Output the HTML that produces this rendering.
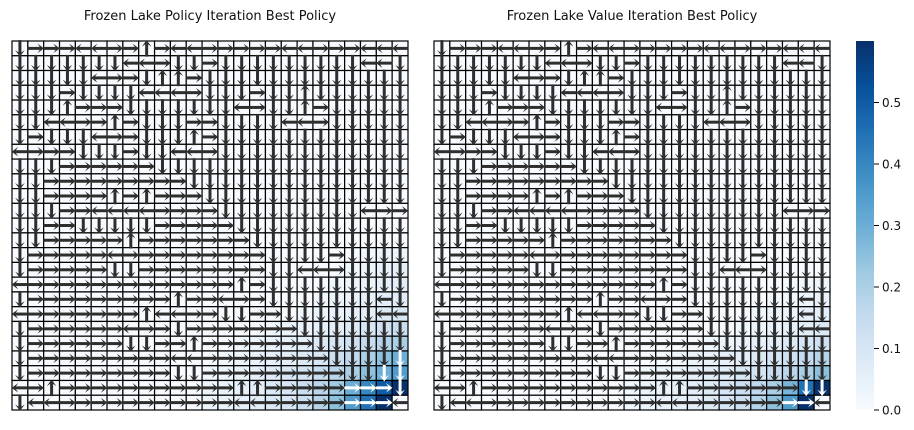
<!DOCTYPE html>
<html><head><meta charset="utf-8">
<style>
html,body{margin:0;padding:0;background:#fff;}
svg{display:block;font-family:"DejaVu Sans","Liberation Sans",sans-serif;}
</style></head>
<body>
<svg id="chart" width="914" height="430" viewBox="0 0 914 430">
<text x="210" y="20" text-anchor="middle" font-size="13" fill="#111">Frozen Lake Policy Iteration Best Policy</text>
<text x="632" y="20" text-anchor="middle" font-size="13" fill="#111">Frozen Lake Value Iteration Best Policy</text>
<g id="left"></g>
<g id="right"></g>
<defs>
<linearGradient id="blues" x1="0" y1="1" x2="0" y2="0">
<stop offset="0" stop-color="#f7fbff"/><stop offset="0.125" stop-color="#deebf7"/>
<stop offset="0.25" stop-color="#c6dbef"/><stop offset="0.375" stop-color="#9ecae1"/>
<stop offset="0.5" stop-color="#6baed6"/><stop offset="0.625" stop-color="#4292c6"/>
<stop offset="0.75" stop-color="#2171b5"/><stop offset="0.875" stop-color="#08519c"/>
<stop offset="1" stop-color="#08306b"/></linearGradient>
</defs>
<rect x="856" y="41" width="18" height="369" fill="url(#blues)"/>
<g id="cbticks"></g>
</svg>
<script>
const policyLeft = [
"DRRRLLRRURLLRRRRRLLRRRLLL",
"DDDDDDDLLRDDRDDDDDDDDDLLD",
"DDDDDLRRDUURDDDDDDDDDDDDD",
"DDDRDDDDLLLRDDDRDDUDDDDDD",
"DDDURRRDDDDDDDLRDDURDDDDD",
"DDLLRRURDDDRRDDDDLLRDDDDD",
"DRDDDLRRDDDURDDDDDDDDDDDD",
"LRRRDDDRDDLLRDDDDDDDDDDDD",
"DDDRRRRRRDDDDDDDDDDDDDDDD",
"DDRRRRRRRRRDDDDDDDDDDDDDD",
"DDRRRRURURRRDDDDDDDDDDDDD",
"DDDRRLLLLRRRRDDDDDDDDDLRR",
"DDRRDDDDDRRRRRDDDDDDDDDDD",
"DDRRRRRURRRRRRRDDDDDDDDDD",
"DRRRRRLRRRRRRRRRDDDDRDDDD",
"DRRRRRDDRRRRRRRRDDLLRDDDD",
"LRRRRRRRRRRRRRURDDDDDDDDD",
"DRRRRRRRRRURRLRRDDDDDDDLD",
"LRRRRRRRULLRRDDRRDDDDDDLL",
"DRRRRRRLRRDRRRRRRRDDDDDDD",
"DRRRRRRDDRRURRRRRRRDDDDDD",
"DRRRRRRRRRLLRRRRRRRRDDDDD",
"DRRRRRRRRRDDRRRRRRRRRDDDD",
"LRURRRRRRRRRRRUURRRRRRRRD",
"DLLRRRRRRRRRRRLLRRRRRRRRL"
];
const policyRight = [
"DRRRLLRRURLLRRRRRLLRRRLLL",
"DDDDDDDLLRDDRDDDDDDDDDLLD",
"DDDDDLRRDUURDDDDDDDDDDDDD",
"DDDRDDDDLLLRDDDRDDUDDDDDD",
"DDDURRRDDDDDDDLRDDURDDDDD",
"DDLLRRURDDDRRDDDDLLRDDDDD",
"DRDDDLRRDDDURDDDDDDDDDDDD",
"LRRRDDDRDDLLRDDDDDDDDDDDD",
"DDDRRRRRRDDDDDDDDDDDDDDDD",
"DDRRRRRRRRRDDDDDDDDDDDDDD",
"DDRRRRURURRRDDDDDDDDDDDDD",
"DDDRRLLLLRRRRDDDDDDDDDLRR",
"DDRRDDDDDRRRRRDDDDDDDDDDD",
"DDRRRRRURRRRRRRDDDDDDDDDD",
"DRRRRRLRRRRRRRRRDDDDRDDDD",
"DRRRRRDDRRRRRRRRDDLLRDDDD",
"LRRRRRRRRRRRRRURDDDDDDDDD",
"DRRRRRRRRRURRLRRDDDDDDDLD",
"LRRRRRRRULLRRDDRRDDDDDDLD",
"DRRRRRRLRRDRRRRRRDDDDDDLL",
"DRRRRRRDDRRURRRRRRDDDDDDD",
"DRRRRRRRRRLLRRRRRRRDDDDDD",
"DRRRRRRRRRDDRRRRRRRRDDDDD",
"LRURRRRRRRRRRRUURRRRRRRDD",
"DLLRRRRRRRRRRRLLRRRRRRRRL"
];
const valuesLeftRows = [14,15,16,17,18,19,20,21,22,23,24];
const valuesLeftStart = [22,21,20,19,18,16,14,13,12,12,12];
const valuesLeft = [
[.02,.03,.03],
[.02,.03,.04,.05],
[.02,.03,.04,.05,.06],
[.02,.03,.04,.05,.06,.07],
[.02,.03,.04,.05,.06,.08,.09],
[.02,.03,.04,.05,.06,.08,.10,.12,.14],
[.02,.03,.04,.05,.06,.08,.10,.12,.15,.18,.20],
[.02,.03,.04,.05,.06,.08,.10,.13,.16,.20,.25,.30],
[.02,.03,.04,.05,.07,.09,.11,.14,.17,.20,.25,.30,.35],
[.03,.04,.05,.06,.08,.10,.13,.17,.22,.30,.40,.50,.60],
[.03,.04,.05,.06,.08,.10,.13,.18,.25,.35,.45,.60,0]
];
const valuesRightRows = [16,17,18,19,20,21,22,23,24];
const valuesRightStart = [22,21,20,18,16,14,13,12,12];
const valuesRight = [
[.01,.02,.03],
[.01,.02,.03,.04],
[.02,.03,.04,.05,.06],
[.01,.02,.03,.04,.05,.06,.08],
[.01,.02,.03,.04,.05,.06,.08,.10,.12],
[.01,.02,.03,.04,.05,.06,.08,.10,.12,.15,.18],
[.02,.03,.04,.05,.06,.07,.09,.11,.14,.17,.20,.25],
[.02,.03,.04,.05,.06,.08,.10,.13,.16,.20,.28,.45,.60],
[.02,.03,.04,.05,.06,.08,.10,.13,.18,.25,.35,.60,0]
];
const cbTicks = [0.0,0.1,0.2,0.3,0.4,0.5];
const cbTickLabels = ["0.0","0.1","0.2","0.3","0.4","0.5"];
const VMAX = 0.6;
const N = 25;
const NS = "http://www.w3.org/2000/svg";
const stops = [[247,251,255],[222,235,247],[198,219,239],[158,202,225],[107,174,214],[66,146,198],[33,113,181],[8,81,156],[8,48,107]];
function colorFor(v){
  let t = Math.max(0,Math.min(1,v/VMAX))*(stops.length-1);
  let i = Math.min(stops.length-2,Math.floor(t)), f=t-i;
  const a=stops[i], b=stops[i+1];
  return `rgb(${a.map((x,k)=>Math.round(x+(b[k]-x)*f)).join(',')})`;
}
function buildGrid(rows,starts,vals){
  const g=[];for(let r=0;r<N;r++){g.push(new Array(N).fill(0));}
  rows.forEach((r,i)=>{vals[i].forEach((v,j)=>{g[r][starts[i]+j]=v;});});
  return g;
}
function drawMap(gid,x0,policy,grid){
  const g=document.getElementById(gid);
  const W=396,H=369,cw=W/N,ch=H/N;
  const xs=c=>x0+c*cw, ys=r=>41+r*ch;
  for(let r=0;r<N;r++)for(let c=0;c<N;c++){
    const rect=document.createElementNS(NS,'rect');
    
    
    rect.setAttribute('x',xs(c));rect.setAttribute('y',ys(r));
    rect.setAttribute('width',cw);rect.setAttribute('height',ch);
    rect.setAttribute('fill',colorFor(grid[r][c]));
    rect.setAttribute('stroke','#000');rect.setAttribute('stroke-width','1.2');
    g.appendChild(rect);
  }
  for(let r=0;r<N;r++)for(let c=0;c<N;c++){
    const d=policy[r][c], v=grid[r][c];
    const cx=xs(c)+cw/2, cy=ys(r)+ch/2;
    const col = v>0.28 ? '#ffffff' : '#2e2e2e';
    let dx=0,dy=0;
    if(d==='R')dx=1;else if(d==='L')dx=-1;else if(d==='U')dy=-1;else dy=1;
    const hl = dx!==0 ? cw*0.52 : ch*0.56;
    const x1=cx-dx*hl, y1=cy-dy*hl, x2=cx+dx*hl, y2=cy+dy*hl;
    const a=document.createElementNS(NS,'g');
    
    
    const ln=document.createElementNS(NS,'line');
    ln.setAttribute('x1',x1);ln.setAttribute('y1',y1);
    ln.setAttribute('x2',x2-dx*3);ln.setAttribute('y2',y2-dy*3);
    ln.setAttribute('stroke',col);ln.setAttribute('stroke-width','3');
    a.appendChild(ln);
    const hd=document.createElementNS(NS,'polygon');
    const px=-dy, py=dx, L=6.5, Wd=4.8;
    const bx=x2-dx*L, by=y2-dy*L;
    hd.setAttribute('points',`${x2},${y2} ${bx+px*Wd},${by+py*Wd} ${x2-dx*L*0.5},${y2-dy*L*0.5} ${bx-px*Wd},${by-py*Wd}`);
    hd.setAttribute('fill',col);
    a.appendChild(hd);
    g.appendChild(a);
  }
}
drawMap('left',12,policyLeft,buildGrid(valuesLeftRows,valuesLeftStart,valuesLeft));
drawMap('right',434,policyRight,buildGrid(valuesRightRows,valuesRightStart,valuesRight));
const cb=document.getElementById('cbticks');
const cbY=v=>410-(v/VMAX)*369;
cbTicks.forEach((t,i)=>{
  const ln=document.createElementNS(NS,'line');
  
  
  ln.setAttribute('x1',874);ln.setAttribute('x2',879);
  ln.setAttribute('y1',cbY(t));ln.setAttribute('y2',cbY(t));
  ln.setAttribute('stroke','#000');ln.setAttribute('stroke-width','1');
  cb.appendChild(ln);
  const tx=document.createElementNS(NS,'text');
  
  
  tx.setAttribute('x',882);tx.setAttribute('y',cbY(t)+4.5);
  tx.setAttribute('font-size','12');tx.setAttribute('fill','#111');
  tx.textContent=cbTickLabels[i];
  cb.appendChild(tx);
});
</script>
</body></html>
